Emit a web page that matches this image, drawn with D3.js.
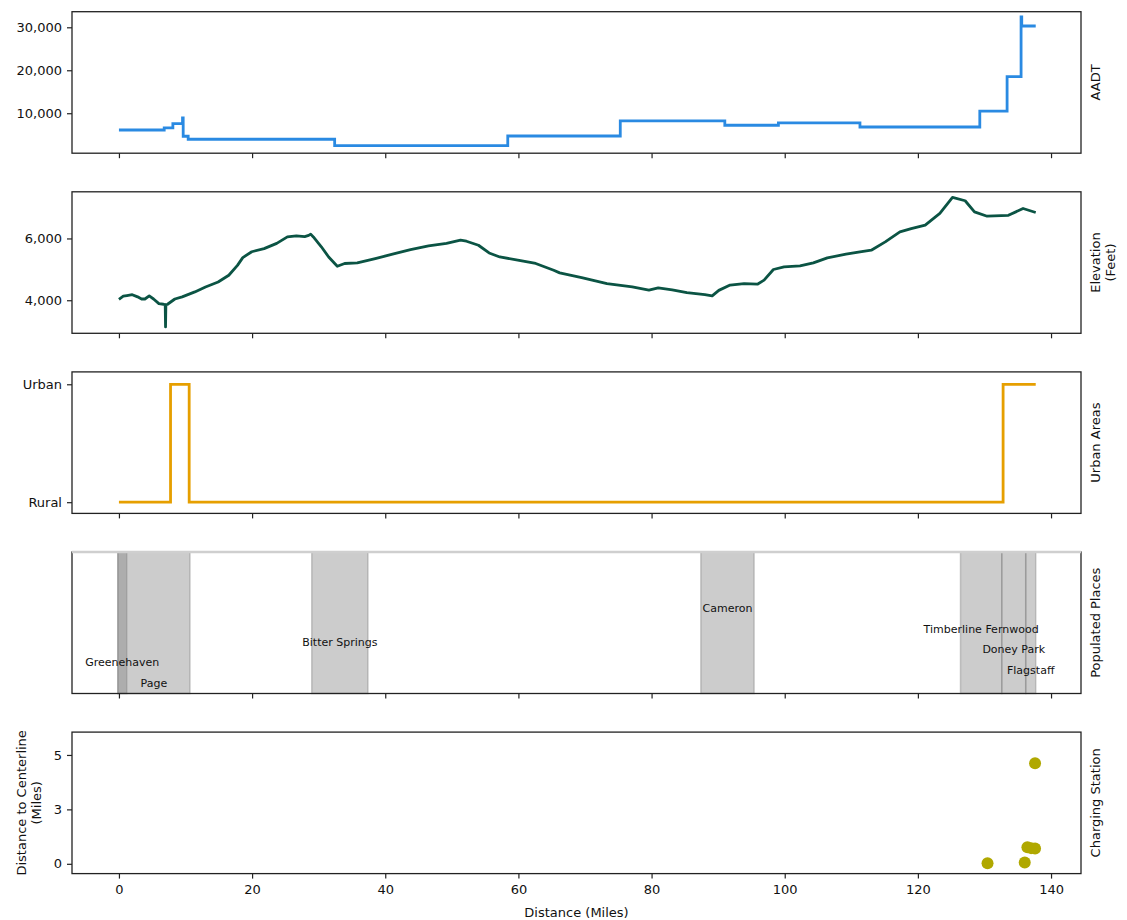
<!DOCTYPE html>
<html>
<head>
<meta charset="utf-8">
<script src="https://cdn.jsdelivr.net/npm/d3@7"></script>
<style>
  body { margin: 0; background: #fff; }
  svg text { font-family: "DejaVu Sans", sans-serif; fill: #111; }
</style>
</head>
<body>
<svg id="chart" width="1127" height="920"></svg>
<script>
// ---- Route profile data (distance along the route in miles) ----
const aadtMiles  = [0, 6.8, 8.1, 9.55, 9.65, 10.4, 32.4, 58.4, 75.3, 91.0, 99.05, 111.3, 129.3, 133.4, 135.5, 135.6, 137.7];
const aadtValues = [6100, 6600, 7600, 8900, 4650, 3950, 2450, 4700, 8200, 7200, 7750, 6800, 10500, 18500, 32400, 30300, 30300];

const elevMiles = [0, 0.65, 1.2, 2.0, 2.8, 3.4, 3.9, 4.55, 5.2, 6.0, 6.7, 6.95, 7.0, 7.05, 7.3, 8.4, 9.5, 11.4, 13.0, 14.9, 16.5, 17.8, 18.6,
  19.95, 21.8, 23.7, 25.3, 26.65, 27.9, 28.5, 28.8, 29.2, 30.4, 31.5, 32.8, 33.9, 35.8, 38.5, 41.1, 43.8, 46.5, 49.2, 51.3, 52.2,
  54.0, 55.6, 57.2, 59.9, 62.6, 65.3, 66.2, 69.5, 73.3, 77.1, 79.6, 81.0, 83.1, 85.3, 88.0, 89.1, 90.1, 91.8, 93.9, 95.9, 96.9,
  98.3, 99.9, 102.3, 104.3, 106.4, 109.2, 111.3, 113.0, 115.1, 117.3, 119.0, 121.1, 123.3, 125.2, 127.1, 128.5, 130.4, 133.6,
  135.8, 137.7];
const elevFeet = [4030, 4130, 4150, 4180, 4110, 4040, 4040, 4140, 4040, 3890, 3870, 3860, 3135, 3860, 3870, 4040, 4110, 4270, 4430, 4590, 4810, 5130, 5380,
  5570, 5670, 5840, 6050, 6085, 6060, 6100, 6140, 6050, 5730, 5400, 5100, 5190, 5210, 5350, 5490, 5640, 5760, 5840, 5945, 5910,
  5780, 5530, 5400, 5300, 5190, 4970, 4885, 4735, 4540, 4430, 4325, 4400, 4335, 4245, 4180, 4140, 4320, 4490, 4540, 4520, 4650,
  4995, 5080, 5110, 5210, 5370, 5490, 5565, 5620, 5890, 6215, 6320, 6430, 6810, 7330, 7220, 6860, 6720, 6750,
  6970, 6840];

const urbanMiles  = [0, 7.75, 10.55, 132.8, 137.7];
const urbanValues = [0, 1, 0, 1, 1];          // 0 = Rural, 1 = Urban
const urbanTickLabels = ["Rural", "Urban"];

const placeNames = ["Greenehaven", "Page", "Bitter Springs", "Cameron", "Timberline Fernwood", "Doney Park", "Flagstaff"];
const placeStart = [-0.17, -0.17, 28.96, 87.4, 126.4, 132.6, 136.2];
const placeEnd   = [1.17, 10.67, 37.4, 95.4, 132.6, 136.2, 137.7];

const stationMiles  = [130.46, 136.05, 136.45, 137.0, 137.6, 137.6];
const stationOffset = [0.03, 0.06, 0.76, 0.72, 0.70, 4.62];

const xTicks = [0, 20, 40, 60, 80, 100, 120, 140];
const aadtTicks = [10000, 20000, 30000];
const elevTicks = [4000, 6000];
const offsetTicks = [0, 2.5, 5];
const offsetTickLabels = ["0", "3", "5"];

// ---- Layout ----
const svg = d3.select("#chart");
const left = 72, right = 1081;
const panelH = 141.5;
const panelTop = i => 11.7 + 180.1 * i;

const x = d3.scaleLinear().domain([-7.05, 144.5]).range([left, right]);

// stacked label rows for the populated-place names (fraction of panel height)
const placeLabelRow = [0.22, 0.076, 0.36, 0.60, 0.455, 0.316, 0.168];

function panel(i, y, opts) {
  const top = panelTop(i), bottom = top + panelH;
  const g = svg.append("g");
  const body = g.append("g");
  // y axis
  const ya = d3.axisLeft(y).tickValues(opts.ticks).tickSizeOuter(0).tickSize(5).tickPadding(5);
  if (opts.tickFormat) ya.tickFormat(opts.tickFormat);
  const yg = g.append("g").attr("transform", `translate(${left},0)`).call(ya);
  yg.select(".domain").remove();
  yg.selectAll("text").attr("font-size", 13);
  // x axis
  const xa = d3.axisBottom(x).tickValues(xTicks).tickSizeOuter(0).tickSize(5).tickPadding(6);
  if (!opts.xLabels) xa.tickFormat("");
  const xg = g.append("g").attr("transform", `translate(0,${bottom})`).call(xa);
  xg.select(".domain").remove();
  xg.selectAll("text").attr("font-size", 13);
  g.selectAll(".tick line").attr("stroke", "#222").attr("stroke-width", 1.2);
  // frame
  g.append("rect").attr("x", left).attr("y", top).attr("width", right - left).attr("height", panelH)
    .attr("fill", "none").attr("stroke", "#222").attr("stroke-width", 1.3);
  // right-side label
  const lines = opts.rightLabel;
  const rl = g.append("text").attr("transform", `translate(1095,${top + panelH / 2}) rotate(-90)`)
    .attr("text-anchor", "middle").attr("font-size", 13);
  lines.forEach((t, k) => rl.append("tspan").attr("x", 0).attr("dy", k === 0 ? "0.35em" : "1.15em").text(t));
  return { g, body, top, bottom };
}

// AADT
{
  const p0 = panelTop(0);
  const y = d3.scaleLinear().domain([700, 33630]).range([p0 + panelH, p0]);
  const p = panel(0, y, { ticks: aadtTicks, tickFormat: d3.format(","), rightLabel: ["AADT"] });
  const data = aadtMiles.map((m, k) => [m, aadtValues[k]]);
  p.body.append("path").datum(data)
    .attr("d", d3.line().x(d => x(d[0])).y(d => y(d[1])).curve(d3.curveStepAfter))
    .attr("fill", "none").attr("stroke", "#2a8ae2").attr("stroke-width", 2.8);
}

// Elevation
{
  const p0 = panelTop(1);
  const y = d3.scaleLinear().domain([2930, 7510]).range([p0 + panelH, p0]);
  const p = panel(1, y, { ticks: elevTicks, tickFormat: d3.format(","), rightLabel: ["Elevation", "(Feet)"] });
  const data = elevMiles.map((m, k) => [m, elevFeet[k]]);
  p.body.append("path").datum(data)
    .attr("d", d3.line().x(d => x(d[0])).y(d => y(d[1])))
    .attr("fill", "none").attr("stroke", "#0b5444").attr("stroke-width", 2.8).attr("stroke-linejoin", "round");
}

// Urban areas
{
  const p0 = panelTop(2);
  const y = d3.scaleLinear().domain([-0.095, 1.105]).range([p0 + panelH, p0]);
  const p = panel(2, y, { ticks: [0, 1], tickFormat: d => urbanTickLabels[d], rightLabel: ["Urban Areas"] });
  const data = urbanMiles.map((m, k) => [m, urbanValues[k]]);
  p.body.append("path").datum(data)
    .attr("d", d3.line().x(d => x(d[0])).y(d => y(d[1])).curve(d3.curveStepAfter))
    .attr("fill", "none").attr("stroke", "#e69f00").attr("stroke-width", 2.8);
}

// Populated places
{
  const p0 = panelTop(3);
  const y = d3.scaleLinear().domain([0, 1]).range([p0 + panelH, p0]);
  const p = panel(3, y, { ticks: [], rightLabel: ["Populated Places"] });
  placeNames.forEach((name, k) => {
    p.body.append("rect")
      .attr("x", x(placeStart[k])).attr("y", y(1))
      .attr("width", x(placeEnd[k]) - x(placeStart[k])).attr("height", y(0) - y(1))
      .attr("fill", "gray").attr("fill-opacity", 0.4)
      .attr("stroke", "gray").attr("stroke-opacity", 0.4).attr("stroke-width", 1.5);
  });
  placeNames.forEach((name, k) => {
    p.g.append("text")
      .attr("x", x((placeStart[k] + placeEnd[k]) / 2)).attr("y", y(placeLabelRow[k]))
      .attr("dy", "0.35em").attr("text-anchor", "middle").attr("font-size", 11)
      .text(name);
  });
  // light top edge
  p.g.append("line").attr("x1", left).attr("x2", right).attr("y1", p0).attr("y2", p0)
    .attr("stroke", "#cfcfcf").attr("stroke-width", 2.5);
}

// Charging stations
{
  const p0 = panelTop(4);
  const y = d3.scaleLinear().domain([-0.45, 6.05]).range([p0 + panelH, p0]);
  const p = panel(4, y, { ticks: offsetTicks, tickFormat: (d, k) => offsetTickLabels[k], rightLabel: ["Charging Station"], xLabels: true });
  p.body.selectAll("circle").data(stationMiles.map((m, k) => [m, stationOffset[k]])).join("circle")
    .attr("cx", d => x(d[0])).attr("cy", d => y(d[1])).attr("r", 6)
    .attr("fill", "#b0a800");
  // left label
  const ll = p.g.append("text").attr("transform", `translate(21,${p0 + panelH / 2}) rotate(-90)`)
    .attr("text-anchor", "middle").attr("font-size", 13);
  ll.append("tspan").attr("x", 0).attr("dy", "0.35em").text("Distance to Centerline");
  ll.append("tspan").attr("x", 0).attr("dy", "1.15em").text("(Miles)");
  // x label
  svg.append("text").attr("x", (left + right) / 2).attr("y", 917).attr("text-anchor", "middle")
    .attr("font-size", 13).text("Distance (Miles)");
}
</script>
</body>
</html>
